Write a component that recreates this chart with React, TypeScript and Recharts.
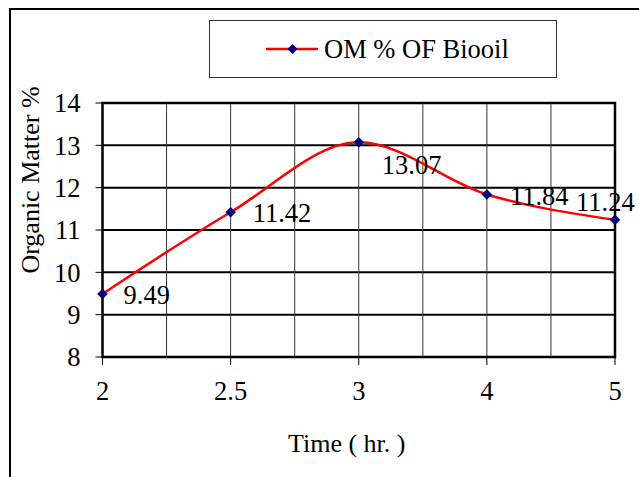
import React from 'react';
import {
  LineChart,
  Line,
  XAxis,
  YAxis,
  CartesianGrid,
  Legend,
  LabelList,
  ReferenceLine,
  ReferenceArea,
} from 'recharts';

// ---- data ----
const timeLabels = ['2', '2.5', '3', '4', '5'];
const omValues = [9.49, 11.42, 13.07, 11.84, 11.24];
const yTicks = [8, 9, 10, 11, 12, 13, 14];
const seriesName = 'OM % OF Biooil';
const xTitle = 'Time ( hr. )';
const yTitle = 'Organic Matter %';

const data = timeLabels.map((t, i) => ({ idx: i, time: t, om: omValues[i] }));
const xTickIdx = timeLabels.map((_, i) => i);
const midLines = timeLabels.slice(1).map((_, i) => i + 0.5);

// ---- style ----
const FONT = "'Liberation Serif', 'Times New Roman', serif";
const FS = 26.5;
const FS_TITLE = 26;
const LINE_RED = '#FF0000';
const NAVY = '#000080';
// label offsets relative to each point (dx, baseline dy)
const LABEL_DX = [21, 22, 23, 23, -39];
const LABEL_DY = [10.5, 9.8, 31.8, 10.3, -8.8];

const Diamond = (props: any) => {
  const { cx, cy, index } = props;
  if (cx == null || cy == null) return <g key={`d${index}`} />;
  const r = 5;
  return (
    <path
      key={`d${index}`}
      d={`M${cx},${cy - r} L${cx + r},${cy} L${cx},${cy + r} L${cx - r},${cy} Z`}
      fill={NAVY}
      stroke={NAVY}
      strokeWidth={0.5}
    />
  );
};

const DataLabel = (props: any) => {
  const { x, y, value, index } = props;
  return (
    <text
      x={x + LABEL_DX[index]}
      y={y + LABEL_DY[index]}
      fontFamily={FONT}
      fontSize={FS}
      fill="#000"
      textAnchor="start"
    >
      {value}
    </text>
  );
};

const LegendBox = (props: any) => {
  const item = props.payload && props.payload[0];
  const name = item ? item.value : seriesName;
  return (
    <svg width={348} height={58} style={{ display: 'block' }}>
      <rect x={0.5} y={0.5} width={347} height={57} fill="#fff" stroke="#333" strokeWidth={1} />
      <line x1={57} x2={109} y1={29} y2={29} stroke={LINE_RED} strokeWidth={2.5} />
      <path d="M83.5,24 L88.5,29 L83.5,34 L78.5,29 Z" fill={NAVY} />
      <text x={115} y={37.5} fontFamily={FONT} fontSize={FS} fill="#000">
        {name}
      </text>
    </svg>
  );
};

const YTitle = (props: any) => {
  const vb = props.viewBox || { x: 0, y: 0, width: 0, height: 0 };
  const x = vb.x + 39;
  const y = vb.y + vb.height / 2 - 50;
  return (
    <text
      x={x}
      y={y}
      transform={`rotate(-90 ${x} ${y})`}
      textAnchor="middle"
      fontFamily={FONT}
      fontSize={FS_TITLE}
      fill="#000"
    >
      {yTitle}
    </text>
  );
};

const XTitle = (props: any) => {
  const vb = props.viewBox || { x: 0, y: 0, width: 0, height: 0 };
  const x = vb.x + vb.width / 2 - 12;
  const y = vb.y + 95;
  return (
    <text x={x} y={y} textAnchor="middle" fontFamily={FONT} fontSize={FS_TITLE} fill="#000">
      {xTitle}
    </text>
  );
};

export default function App() {
  return (
    <div style={{ position: 'absolute', left: 0, top: 0, width: 639, height: 477, background: '#fff' }}>
      <div
        style={{
          position: 'absolute',
          left: 9,
          top: 8,
          width: 700,
          height: 500,
          borderLeft: '2px solid #000',
          borderTop: '2px solid #000',
          boxSizing: 'border-box',
        }}
      />
      <div style={{ position: 'absolute', left: 0, top: 0 }}>
        <LineChart
          width={639}
          height={477}
          data={data}
          margin={{ top: 103, right: 24, bottom: 0, left: 0 }}
        >
          <CartesianGrid vertical={false} stroke="#000" strokeWidth={2} />
          <CartesianGrid horizontal={false} stroke="#333" strokeWidth={1} />
          {midLines.map((m) => (
            <ReferenceLine key={m} x={m} stroke="#333" strokeWidth={1} />
          ))}
          <ReferenceArea x1={0} x2={4} y1={8} y2={14} fill="none" stroke="#000" strokeWidth={2.5} />
          <XAxis
            dataKey="idx"
            type="number"
            domain={[0, timeLabels.length - 1]}
            ticks={xTickIdx}
            tickFormatter={(v: number) => timeLabels[v]}
            axisLine={false}
            tickLine={{ stroke: '#000', strokeWidth: 1 }}
            tickSize={8}
            tickMargin={16}
            height={120}
            tick={{ fill: '#000', fontSize: FS, fontFamily: FONT }}
            interval={0}
            allowDecimals={true}
            label={<XTitle />}
          />
          <YAxis
            type="number"
            domain={[8, 14]}
            ticks={yTicks}
            axisLine={false}
            tickLine={{ stroke: '#000', strokeWidth: 1 }}
            tickSize={7}
            tickMargin={15}
            width={102.5}
            tick={{ fill: '#000', fontSize: FS, fontFamily: FONT }}
            interval={0}
            label={<YTitle />}
          />
          <Legend
            layout="horizontal"
            verticalAlign="middle"
            align="center"
            content={<LegendBox />}
            wrapperStyle={{ top: 20, left: 209, width: 348, height: 58 }}
          />
          <Line
            type="monotone"
            dataKey="om"
            name={seriesName}
            stroke={LINE_RED}
            strokeWidth={2.5}
            dot={Diamond}
            activeDot={false}
            isAnimationActive={false}
          >
            <LabelList dataKey="om" content={<DataLabel />} />
          </Line>
        </LineChart>
      </div>
    </div>
  );
}
